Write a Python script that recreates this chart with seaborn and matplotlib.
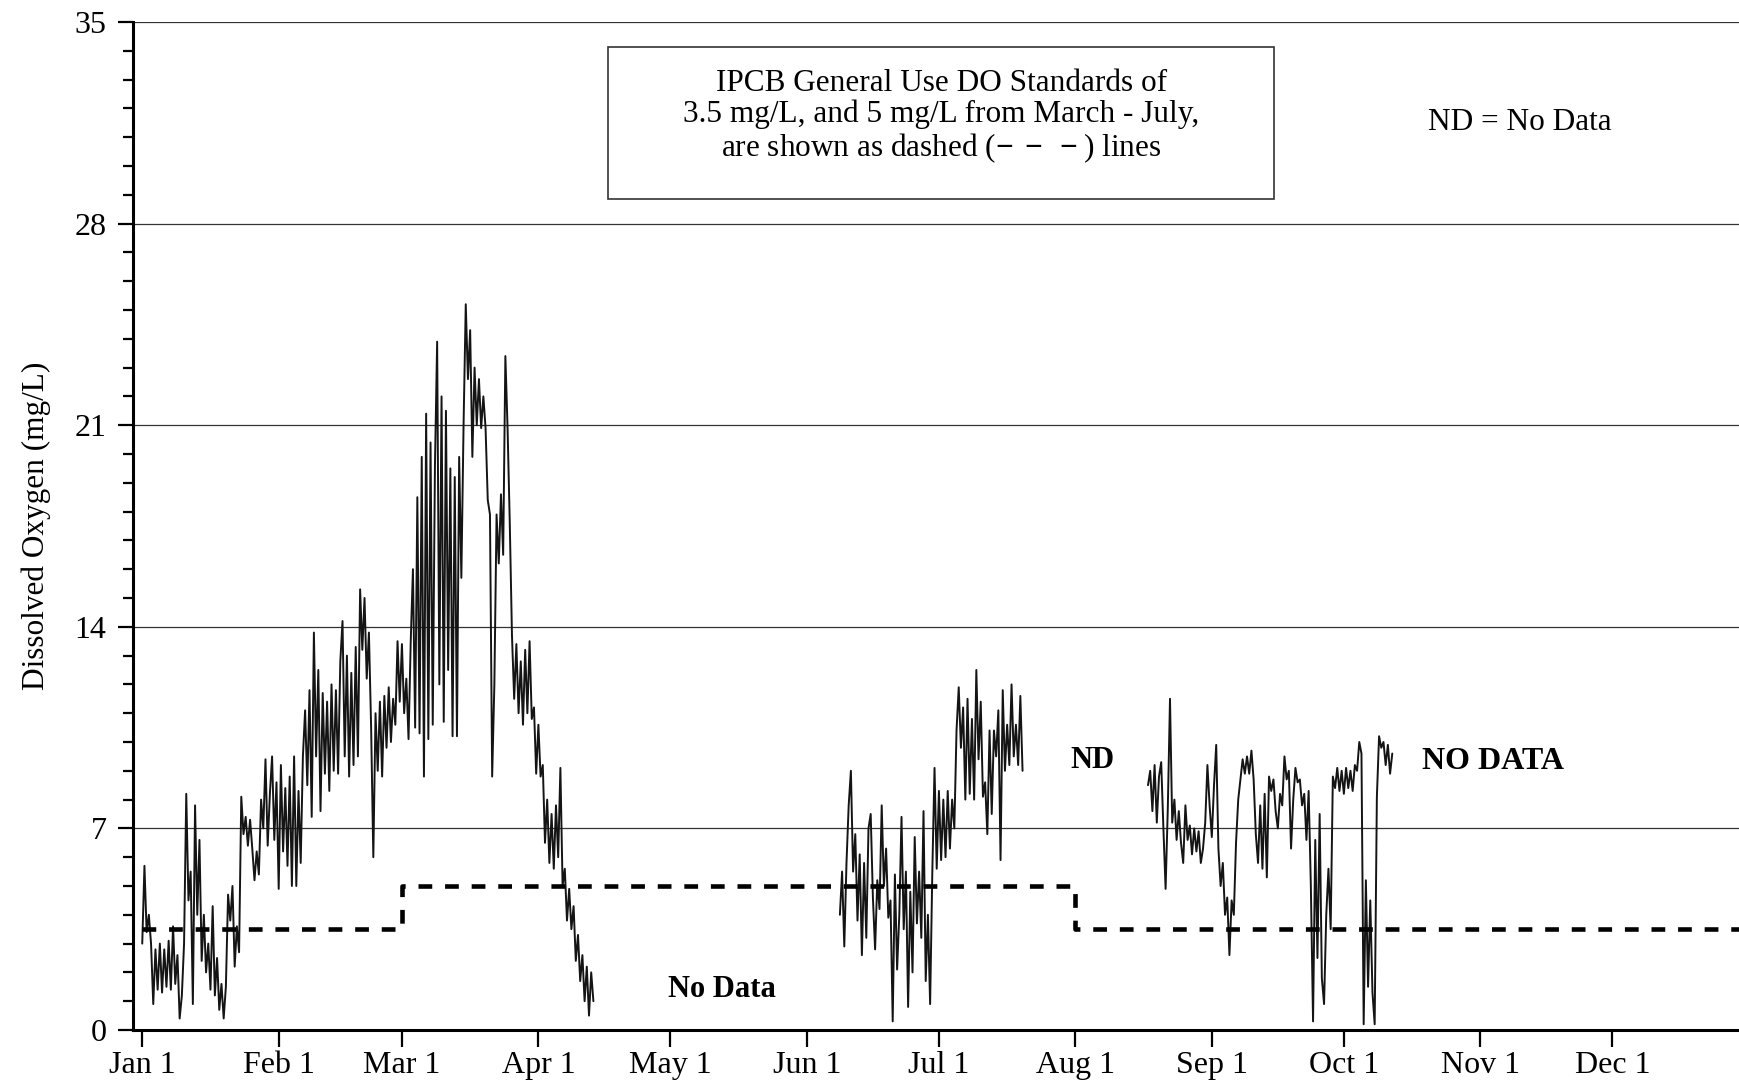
import numpy as np
import pandas as pd
import matplotlib
matplotlib.use("Agg")
import matplotlib.pyplot as plt
from matplotlib.patches import Rectangle
from matplotlib.ticker import MultipleLocator
import seaborn as sns

# x axis: day of year where each month starts
month_days = [0, 31, 59, 90, 120, 151, 181, 212, 243, 273, 304, 334]
month_labels = ["Jan 1", "Feb 1", "Mar 1", "Apr 1", "May 1", "Jun 1",
                "Jul 1", "Aug 1", "Sep 1", "Oct 1", "Nov 1", "Dec 1"]
y_ticks = [0, 7, 14, 21, 28, 35]

# DO readings (mg/L), one value every half day
step_days = 0.5

seg1_start = 0.0   # Jan 1 - Apr 13
seg1_do = [
    3.0, 5.7, 3.4, 4.0, 3.0, 0.9, 2.8, 1.4, 3.0, 1.3,
    2.8, 1.5, 3.1, 1.4, 3.6, 1.6, 2.6, 0.4, 1.2, 3.0,
    8.2, 4.5, 5.5, 0.9, 7.8, 4.0, 6.6, 2.4, 4.0, 2.0,
    3.0, 1.4, 4.3, 1.2, 2.5, 0.7, 1.6, 0.4, 1.5, 4.7,
    3.8, 5.0, 2.2, 3.6, 2.7, 8.1, 6.8, 7.4, 6.4, 7.3,
    6.3, 5.2, 6.2, 5.4, 8.0, 7.0, 9.4, 6.4, 8.2, 9.5,
    6.6, 8.6, 4.9, 9.2, 6.2, 8.4, 5.7, 8.8, 5.0, 9.5,
    5.0, 8.3, 5.8, 9.5, 11.1, 8.5, 11.8, 7.4, 13.8, 9.5,
    12.5, 7.6, 11.7, 8.9, 11.4, 8.3, 12.0, 9.0, 11.8, 8.9,
    12.8, 14.2, 9.5, 13.0, 8.8, 12.4, 9.2, 13.3, 9.5, 15.3,
    13.2, 15.0, 12.2, 13.8, 10.5, 6.0, 11.0, 9.0, 11.4, 8.8,
    11.6, 9.8, 11.9, 10.0, 11.5, 10.6, 13.5, 11.4, 13.4, 11.0,
    12.2, 10.1, 13.5, 16.0, 10.5, 18.5, 10.3, 19.9, 8.8, 21.4,
    10.1, 20.4, 10.6, 19.6, 23.9, 12.0, 22.0, 10.7, 21.5, 12.5,
    19.5, 10.2, 19.2, 10.2, 19.9, 15.7, 21.0, 25.2, 22.6, 24.3,
    19.9, 23.0, 21.0, 22.6, 20.9, 22.0, 20.9, 18.4, 17.9, 8.8,
    12.0, 17.9, 16.2, 18.6, 16.5, 23.4, 20.9, 17.6, 13.7, 11.5,
    13.4, 11.0, 12.8, 10.6, 13.2, 11.0, 13.5, 10.8, 11.2, 8.9,
    10.6, 8.8, 9.2, 6.5, 8.0, 5.8, 7.5, 5.6, 7.8, 6.0,
    9.1, 5.0, 5.6, 3.8, 4.9, 3.5, 4.3, 2.4, 3.3, 1.7,
    2.6, 1.0, 2.2, 0.5, 2.0, 1.0,
]

seg2_start = 158.5  # Jun 8 - Jul 20
seg2_do = [
    4.0, 5.5, 2.9, 5.8, 7.8, 9.0, 5.5, 6.8, 3.8, 6.1,
    2.6, 5.8, 3.2, 7.0, 7.5, 4.6, 2.8, 5.2, 4.2, 7.8,
    5.0, 6.3, 3.9, 4.5, 0.3, 5.4, 2.1, 4.0, 7.4, 3.5,
    5.5, 0.8, 4.8, 2.0, 6.7, 3.7, 5.5, 3.2, 7.6, 1.7,
    4.0, 0.9, 5.5, 9.1, 5.6, 8.3, 5.9, 8.0, 6.0, 8.3,
    6.3, 8.0, 7.0, 10.4, 11.9, 9.8, 11.2, 8.0, 11.5, 8.2,
    10.8, 8.0, 12.5, 9.4, 11.4, 8.1, 8.6, 6.8, 10.4, 7.5,
    10.4, 9.5, 11.1, 5.9, 11.8, 9.0, 10.6, 9.2, 12.0, 9.5,
    10.6, 9.2, 11.6, 9.0,
]

seg3_start = 228.5  # Aug 17 - Oct 12
seg3_do = [
    8.5, 9.0, 7.6, 9.2, 7.2, 8.8, 9.3, 7.0, 4.9, 7.7,
    11.5, 7.2, 8.0, 6.6, 7.6, 6.5, 5.8, 7.8, 6.6, 7.1,
    6.1, 7.0, 6.2, 6.9, 5.8, 6.3, 7.2, 9.2, 7.8, 6.7,
    8.5, 9.9, 6.3, 5.0, 5.8, 4.0, 4.6, 2.6, 4.5, 4.0,
    6.5, 8.0, 8.7, 9.4, 8.9, 9.5, 8.9, 9.7, 8.7, 6.8,
    5.8, 7.8, 5.6, 8.2, 5.3, 8.8, 8.3, 8.7, 7.6, 7.0,
    8.2, 7.8, 9.5, 8.7, 9.0, 6.3, 8.0, 9.1, 8.6, 8.7,
    7.8, 8.2, 6.6, 8.3, 5.0, 0.3, 6.6, 2.5, 7.5, 1.8,
    0.9, 4.0, 5.6, 3.5, 8.8, 8.4, 9.1, 8.3, 9.0, 8.2,
    9.1, 8.4, 9.0, 8.3, 9.2, 9.0, 10.0, 9.6, 0.2, 5.2,
    1.5, 4.5, 1.3, 0.2, 8.1, 10.2, 9.8, 10.0, 9.2, 9.9,
    8.9, 9.6,
]

# IPCB general use DO standard (step line)
std_days = [0, 59, 212, 366]
std_do = [3.5, 5.0, 3.5, 3.5]

frames = []
for name, start, vals in [("s1", seg1_start, seg1_do),
                          ("s2", seg2_start, seg2_do),
                          ("s3", seg3_start, seg3_do)]:
    frames.append(pd.DataFrame({
        "day": start + step_days * np.arange(len(vals)),
        "do": vals,
        "segment": name,
    }))
df = pd.concat(frames, ignore_index=True)
df_std = pd.DataFrame({"day": std_days, "do": std_do})

sns.set_theme(style="white")
plt.rcParams["font.family"] = ["Liberation Serif", "DejaVu Serif"]
plt.rcParams["mathtext.fontset"] = "custom"
plt.rcParams["mathtext.rm"] = "Liberation Serif"
plt.rcParams["mathtext.bf"] = "Liberation Serif:bold"

W, H = 1740, 1084
fig = plt.figure(figsize=(W / 100, H / 100), dpi=100)
ax = fig.add_axes([133 / W, 1 - 1030 / H, 1 - 133 / W, 1008 / H])

ax.grid(axis="y", which="major", color="0.2", lw=0.9)
ax.set_axisbelow(True)

sns.lineplot(data=df, x="day", y="do", units="segment", estimator=None,
             sort=False, color="0.08", lw=1.4, ax=ax)
sns.lineplot(data=df_std, x="day", y="do", estimator=None, sort=False,
             drawstyle="steps-post", color="black", lw=3.3,
             linestyle=(0, (3.0, 2.8)), ax=ax)

ax.set_xlim(-2.1, 363)
ax.set_ylim(0, 35)
ax.set_xticks(month_days, month_labels)
ax.set_yticks(y_ticks)
ax.yaxis.set_minor_locator(MultipleLocator(1))
ax.tick_params(axis="y", which="major", direction="out", length=11, width=1.6,
               labelsize=23, pad=8, left=True, colors="black")
ax.tick_params(axis="y", which="minor", direction="out", length=7, width=1.6,
               left=True, colors="black")
ax.tick_params(axis="x", which="major", direction="out", length=12, width=1.6,
               labelsize=23, pad=3, bottom=True, colors="black")
ax.set_xlabel("")
ax.set_ylabel("Dissolved Oxygen (mg/L)", fontsize=22.5, color="black")
ax.yaxis.set_label_coords(-0.051, 0.5)

for side in ["top", "right"]:
    ax.spines[side].set_visible(False)
for side in ["left", "bottom"]:
    ax.spines[side].set_linewidth(2.2)
    ax.spines[side].set_color("black")

# note box
ax.add_patch(Rectangle((105.8, 28.85), 151.4, 5.28, fill=False, lw=1.2,
                       ec="0.2", zorder=3))
ax.text(181.6, 31.7,
        "IPCB General Use DO Standards of\n"
        "3.5 mg/L, and 5 mg/L from March - July,\n"
        r"are shown as dashed ($\mathbf{-\,-\,-}$) lines",
        ha="center", va="center", fontsize=22.5, linespacing=1.07,
        color="black")
ax.text(312.9, 31.5, "ND = No Data", ha="center", va="center",
        fontsize=22.5, color="black")

ax.text(131.8, 1.39, "No Data", ha="center", va="center", fontsize=22,
        fontweight="bold", color="black")
ax.text(215.8, 9.37, "ND", ha="center", va="center", fontsize=22,
        fontweight="bold", color="black")
ax.text(306.8, 9.34, "NO DATA", ha="center", va="center", fontsize=23,
        fontweight="bold", color="black")

fig.savefig("out.png", dpi=100)
